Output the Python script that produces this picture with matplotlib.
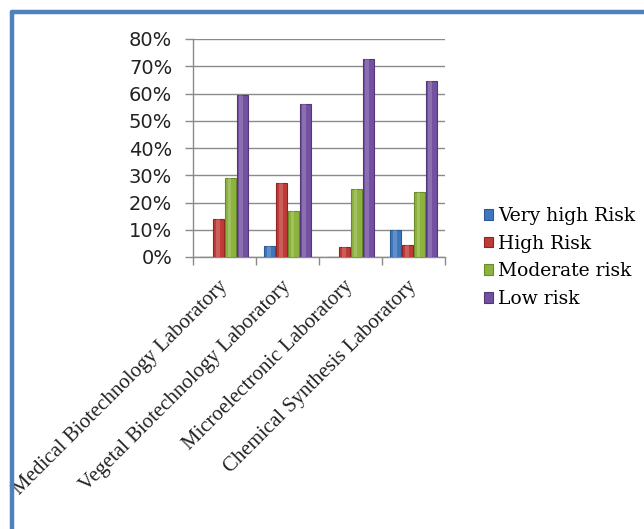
import matplotlib.pyplot as plt
import numpy as np
from matplotlib.lines import Line2D
from matplotlib.ticker import FixedLocator, PercentFormatter

# Data (percent)
labs = ["Medical Biotechnology Laboratory", "Vegetal Biotechnology Laboratory",
        "Microelectronic Laboratory", "Chemical Synthesis Laboratory"]
series = ["Very high Risk", "High Risk", "Moderate risk", "Low risk"]
very_high = [0, 4, 0, 10]
high = [14, 27, 3.5, 4.5]
moderate = [29, 17, 25, 24]
low = [59.5, 56, 72.5, 64.5]

colors = ["#3F77BC", "#BE3B37", "#8DB33F", "#7151A0"]
edges = ["#2B5A94", "#8E2522", "#6A8A2A", "#523878"]

fig = plt.figure(figsize=(6.44, 5.29), dpi=100)
ax = fig.add_axes([193 / 644, 272 / 529, 252 / 644, 218 / 529])

x = np.arange(len(labs))
step = 0.186
w = 0.175
for i, vals in enumerate([very_high, high, moderate, low]):
    pos = x + (i - 1.5) * step
    ax.bar(pos, vals, width=w, color=colors[i], edgecolor=edges[i],
           linewidth=0.8, label=series[i], zorder=3)
    # lighter centre strip for a rounded look
    ax.bar(pos - w * 0.08, vals, width=w * 0.35, color="white", alpha=0.18,
           linewidth=0, zorder=4)

ax.set_xlim(-0.5, 3.5)
ax.set_ylim(0, 80)
ax.yaxis.set_major_locator(FixedLocator(np.arange(0, 81, 10)))
ax.yaxis.set_major_formatter(PercentFormatter(decimals=0))
ax.grid(axis="y", color="#8a8a8a", linewidth=1, zorder=0)

ax.set_xticks(x)
ax.set_xticklabels(labs, rotation=45, ha="right", va="center",
                   rotation_mode="anchor", fontsize=15, family="Liberation Serif",
                   color="#222222")
ax.tick_params(axis="x", which="major", length=0, pad=19)
ax.xaxis.set_minor_locator(FixedLocator(np.arange(-0.5, 3.6, 1)))
ax.tick_params(axis="x", which="minor", length=6, color="#8a8a8a", width=1)
ax.tick_params(axis="y", length=6, color="#8a8a8a", width=1, pad=9,
               labelsize=14, labelcolor="#222222")

for s in ["top", "right"]:
    ax.spines[s].set_visible(False)
for s in ["left", "bottom"]:
    ax.spines[s].set_color("#8a8a8a")
    ax.spines[s].set_linewidth(1)

handles, lbls = ax.get_legend_handles_labels()
fig.legend(handles, lbls, loc="upper left", bbox_to_anchor=(467 / 644, 1 - 190 / 529),
           frameon=False, handlelength=0.5, handleheight=0.5, handletextpad=0.25,
           labelspacing=0.52, prop={"family": "DejaVu Serif", "size": 13.5})

# blue frame (only top and left edges visible in the crop)
fig.add_artist(Line2D([12 / 644, 1], [1 - 12 / 529] * 2, color="#4F81BD", lw=3.2,
                      transform=fig.transFigure, solid_capstyle="round"))
fig.add_artist(Line2D([12 / 644] * 2, [0, 1 - 12 / 529], color="#4F81BD", lw=3.2,
                      transform=fig.transFigure, solid_capstyle="round"))

fig.savefig("out.png", dpi=100)
